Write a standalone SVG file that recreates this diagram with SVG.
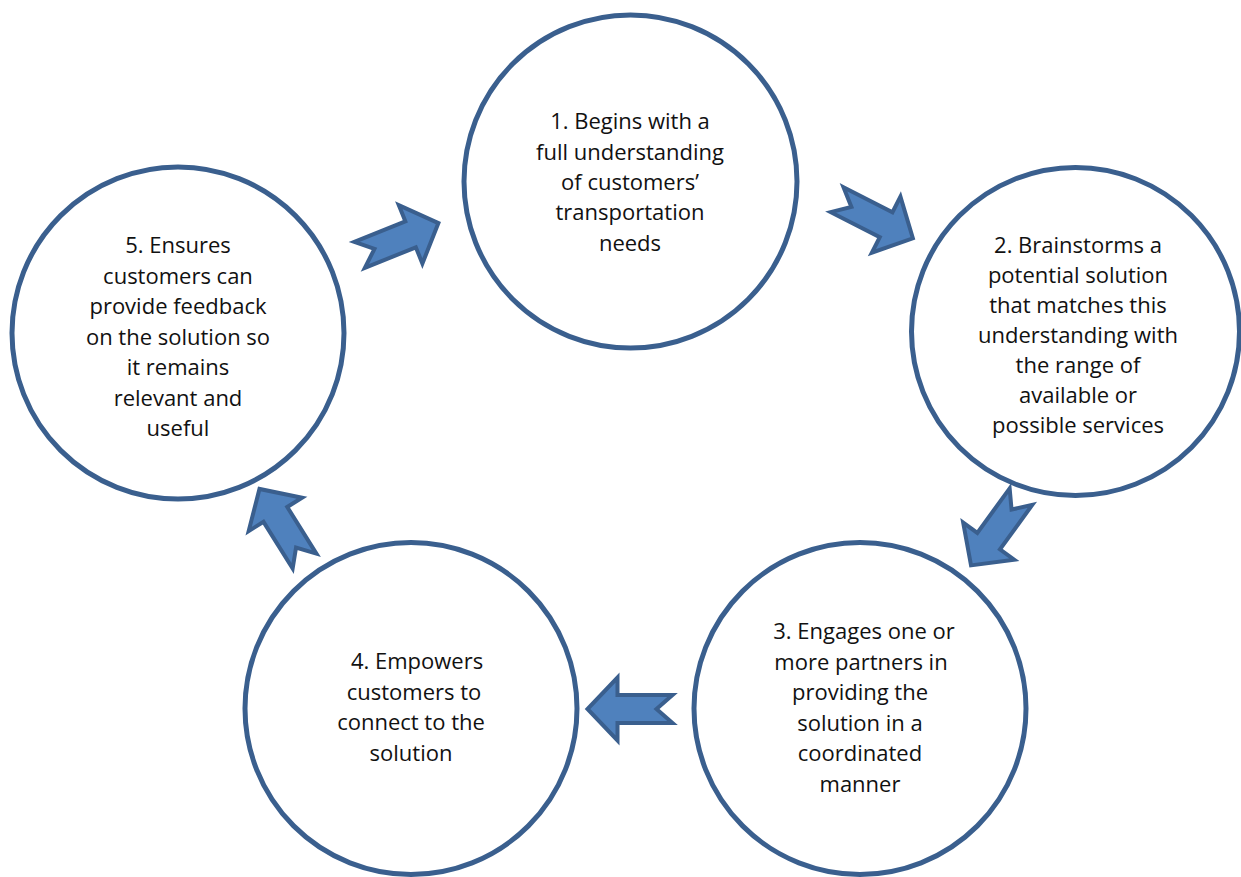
<svg xmlns="http://www.w3.org/2000/svg" width="1241" height="877" viewBox="0 0 1241 877">
<style>
.c{fill:#fff;stroke:#3A5F8E;stroke-width:5}
.t{font-family:"Open Sans","Liberation Sans",sans-serif;font-size:22px;fill:#111;text-anchor:middle}
.a{fill:#4F81BD;stroke:#3A5F8E;stroke-width:4;stroke-linejoin:miter}
</style>
<defs>
<polygon id="arr" points="-42.5,-14 12.5,-14 12.5,-31.5 42.5,0 12.5,31.5 12.5,14 -42.5,14 -26.5,0"/>
</defs>
<rect width="1241" height="877" fill="#fff"/>
<g id="node1">
<circle class="c" cx="630.5" cy="181.5" r="166.5"/>
<text class="t"><tspan x="630" y="129">1. Begins with a</tspan><tspan x="630" y="159.5">full understanding</tspan><tspan x="630" y="190">of customers’</tspan><tspan x="630" y="220">transportation</tspan><tspan x="630" y="250.5">needs</tspan></text>
</g>
<g id="node2">
<circle class="c" cx="1075.5" cy="331.5" r="164"/>
<text class="t"><tspan x="1078" y="253">2. Brainstorms a</tspan><tspan x="1078" y="283">potential solution</tspan><tspan x="1078" y="313">that matches this</tspan><tspan x="1078" y="343">understanding with</tspan><tspan x="1078" y="373">the range of</tspan><tspan x="1078" y="403">available or</tspan><tspan x="1078" y="433">possible services</tspan></text>
</g>
<g id="node3">
<circle class="c" cx="860" cy="708.5" r="166"/>
<text class="t"><tspan x="864" y="639">3. Engages one or</tspan><tspan x="861" y="669.5">more partners in</tspan><tspan x="860" y="700">providing the</tspan><tspan x="860" y="730.5">solution in a</tspan><tspan x="860" y="761">coordinated</tspan><tspan x="860" y="791.5">manner</tspan></text>
</g>
<g id="node4">
<circle class="c" cx="411" cy="708.5" r="166"/>
<text class="t"><tspan x="417" y="669">4. Empowers</tspan><tspan x="414" y="699.5">customers to</tspan><tspan x="411" y="730">connect to the</tspan><tspan x="411" y="760.5">solution</tspan></text>
</g>
<g id="node5">
<circle class="c" cx="178" cy="333" r="166"/>
<text class="t"><tspan x="178" y="253">5. Ensures</tspan><tspan x="178" y="283.5">customers can</tspan><tspan x="178" y="314">provide feedback</tspan><tspan x="178" y="344.5">on the solution so</tspan><tspan x="178" y="375">it remains</tspan><tspan x="178" y="405.5">relevant and</tspan><tspan x="178" y="436">useful</tspan></text>
</g>
<g id="connectors">
<use href="#arr" class="a" transform="translate(875,219) rotate(27)"/>
<use href="#arr" class="a" transform="translate(996,531) rotate(126)"/>
<use href="#arr" class="a" transform="translate(630,709) rotate(180)"/>
<use href="#arr" class="a" transform="translate(282,525) rotate(-122)"/>
<use href="#arr" class="a" transform="translate(399,239) rotate(-22)"/>
</g>
</svg>
